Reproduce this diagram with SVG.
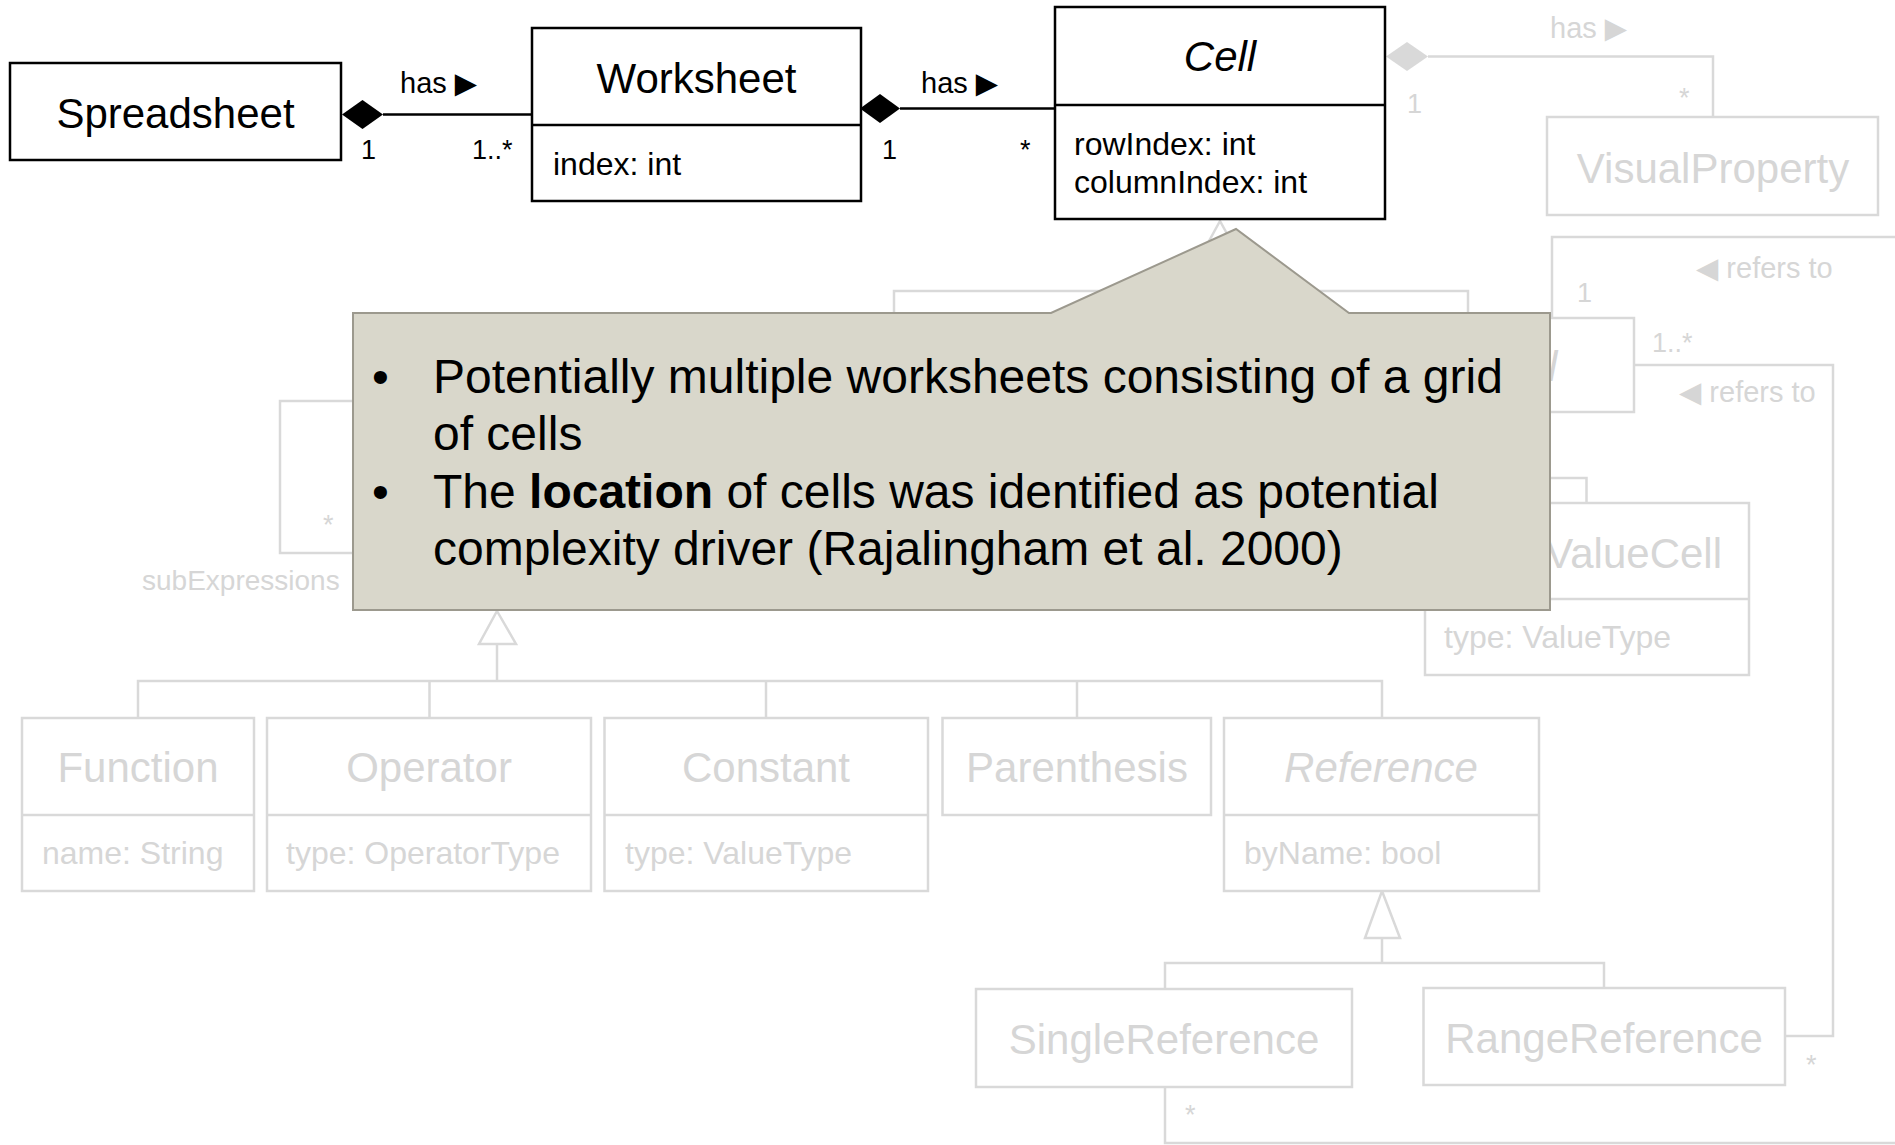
<svg xmlns="http://www.w3.org/2000/svg" width="1895" height="1145" viewBox="0 0 1895 1145">
  <style>
    text { font-family: "Liberation Sans", Arial, "DejaVu Sans", sans-serif; }
    .box { fill: #ffffff; stroke: #000000; stroke-width: 2.5; }
    .sep { stroke: #000000; stroke-width: 2.5; }
    .name { font-size: 42px; fill: #000000; text-anchor: middle; }
    .attr { font-size: 32px; fill: #000000; }
    .lbl { font-size: 29px; fill: #000000; }
    .mult { font-size: 27px; fill: #000000; }
    .line { fill: none; stroke: #000000; stroke-width: 2.5; }
    .fbox { fill: #ffffff; stroke: #d9d9d9; stroke-width: 2.5; }
    .fsep { stroke: #d9d9d9; stroke-width: 2.5; }
    .fname { font-size: 42px; fill: #d6d6d6; text-anchor: middle; }
    .fattr { font-size: 32px; fill: #d6d6d6; }
    .flbl { font-size: 29px; fill: #d6d6d6; }
    .fmult { font-size: 27px; fill: #d6d6d6; }
    .fline { fill: none; stroke: #d9d9d9; stroke-width: 2.5; }
    .gen { fill: #ffffff; stroke: #d9d9d9; stroke-width: 2.5; stroke-linejoin: miter; }
    .note { fill: #d9d7cb; stroke: #9c998e; stroke-width: 2; }
    .bullet { font-size: 48px; fill: #000000; }
  </style>

  <!-- faded part of the model -->
  <g id="connectors-faded">
    <!-- Cell has VisualProperty -->
    <polygon points="1386,56.5 1407,42 1428,56.5 1407,71" fill="#d9d9d9"/>
    <polyline class="fline" points="1428,56.5 1713,56.5 1713,117"/>
    <text class="flbl" x="1550" y="38">has ▶</text>
    <text class="fmult" x="1407" y="113">1</text>
    <text class="fmult" x="1679" y="107">*</text>

    <!-- refers to (single) -->
    <polyline class="fline" points="1552,318 1552,237 1895,237"/>
    <text class="flbl" x="1696" y="278">◀ refers to</text>
    <text class="fmult" x="1577" y="302">1</text>

    <!-- refers to (range) -->
    <polyline class="fline" points="1634,365 1833,365 1833,1036 1785,1036"/>
    <text class="flbl" x="1679" y="402">◀ refers to</text>
    <text class="fmult" x="1652" y="352">1..*</text>
    <text class="fmult" x="1806" y="1074">*</text>

    <!-- SingleReference association -->
    <polyline class="fline" points="1165,1087 1165,1143 1895,1143"/>
    <text class="fmult" x="1185" y="1124">*</text>

    <!-- Cell generalization -->
    <polyline class="fline" points="1220,252 1220,291"/>
    <polyline class="fline" points="894,313 894,291 1468,291 1468,313"/>
    <polygon class="gen" points="1220,221 1237,252 1203,252"/>

    <!-- ValueCell generalization -->
    <polyline class="fline" points="1500,478 1586.5,478 1586.5,503"/>

    <!-- subExpressions self association -->
    <polyline class="fline" points="380,401 280,401 280,553 380,553"/>
    <text class="fmult" x="323" y="534">*</text>
    <text class="flbl" x="142" y="590" style="font-size:28px">subExpressions</text>

    <!-- Expression generalization -->
    <polyline class="fline" points="497,644 497,681"/>
    <polyline class="fline" points="138,718 138,681 1382,681 1382,718"/>
    <polyline class="fline" points="429.5,681 429.5,718"/>
    <polyline class="fline" points="766,681 766,718"/>
    <polyline class="fline" points="1077,681 1077,718"/>
    <polygon class="gen" points="497,611 516,644 479,644"/>

    <!-- Reference generalization -->
    <polyline class="fline" points="1382,938 1382,963"/>
    <polyline class="fline" points="1165,989 1165,963 1604,963 1604,988"/>
    <polygon class="gen" points="1382,891 1400,938 1365,938"/>
  </g>

  <g id="VisualProperty">
    <rect class="fbox" x="1547" y="117" width="331" height="98"/>
    <text class="fname" x="1713" y="183">VisualProperty</text>
  </g>

  <g id="FormulaBox">
    <rect class="fbox" x="1420" y="318" width="214" height="94"/>
    <text class="fname" x="1548" y="381" font-style="italic" style="text-anchor:start">l</text>
  </g>

  <g id="ValueCell">
    <rect class="fbox" x="1425" y="503" width="324" height="172"/>
    <line class="fsep" x1="1425" y1="599" x2="1749" y2="599"/>
    <text class="fname" x="1722" y="568" style="text-anchor:end">ValueCell</text>
    <text class="fattr" x="1444" y="648">type: ValueType</text>
  </g>

  <g id="Function">
    <rect class="fbox" x="22" y="718" width="232" height="173"/>
    <line class="fsep" x1="22" y1="815" x2="254" y2="815"/>
    <text class="fname" x="138" y="782">Function</text>
    <text class="fattr" x="42" y="864">name: String</text>
  </g>

  <g id="Operator">
    <rect class="fbox" x="267" y="718" width="324" height="173"/>
    <line class="fsep" x1="267" y1="815" x2="591" y2="815"/>
    <text class="fname" x="429" y="782">Operator</text>
    <text class="fattr" x="286" y="864">type: OperatorType</text>
  </g>

  <g id="Constant">
    <rect class="fbox" x="604.5" y="718" width="323.5" height="173"/>
    <line class="fsep" x1="604.5" y1="815" x2="928" y2="815"/>
    <text class="fname" x="766" y="782">Constant</text>
    <text class="fattr" x="625" y="864">type: ValueType</text>
  </g>

  <g id="Parenthesis">
    <rect class="fbox" x="942.5" y="718" width="268.5" height="97"/>
    <text class="fname" x="1077" y="782">Parenthesis</text>
  </g>

  <g id="Reference">
    <rect class="fbox" x="1224" y="718" width="315" height="173"/>
    <line class="fsep" x1="1224" y1="815" x2="1539" y2="815"/>
    <text class="fname" x="1381" y="782" font-style="italic">Reference</text>
    <text class="fattr" x="1244" y="864">byName: bool</text>
  </g>

  <g id="SingleReference">
    <rect class="fbox" x="976" y="989" width="376" height="98"/>
    <text class="fname" x="1164" y="1054">SingleReference</text>
  </g>

  <g id="RangeReference">
    <rect class="fbox" x="1423.5" y="988" width="361.5" height="97"/>
    <text class="fname" x="1604" y="1053">RangeReference</text>
  </g>

  <!-- highlighted part of the model -->
  <g id="connectors">
    <line class="line" x1="383" y1="114.5" x2="532" y2="114.5"/>
    <polygon points="342,114.5 362.5,100 383,114.5 362.5,129" fill="#000000"/>
    <text class="lbl" x="400" y="93">has ▶</text>
    <text class="mult" x="361" y="159">1</text>
    <text class="mult" x="472" y="159">1..*</text>

    <line class="line" x1="900" y1="108.5" x2="1055" y2="108.5"/>
    <polygon points="860,108.5 880,94 900,108.5 880,123" fill="#000000"/>
    <text class="lbl" x="921" y="93">has ▶</text>
    <text class="mult" x="882" y="159">1</text>
    <text class="mult" x="1020" y="159">*</text>
  </g>

  <g id="Spreadsheet">
    <rect class="box" x="10" y="63" width="331" height="97"/>
    <text class="name" x="175.5" y="128">Spreadsheet</text>
  </g>

  <g id="Worksheet">
    <rect class="box" x="532" y="28" width="329" height="173"/>
    <line class="sep" x1="532" y1="125" x2="861" y2="125"/>
    <text class="name" x="696.5" y="93">Worksheet</text>
    <text class="attr" x="553" y="175">index: int</text>
  </g>

  <g id="Cell">
    <rect class="box" x="1055" y="7" width="330" height="212"/>
    <line class="sep" x1="1055" y1="105" x2="1385" y2="105"/>
    <text class="name" x="1220" y="71" font-style="italic">Cell</text>
    <text class="attr" x="1074" y="155">rowIndex: int</text>
    <text class="attr" x="1074" y="193">columnIndex: int</text>
  </g>

  <!-- callout -->
  <g id="note">
    <path class="note" d="M353,313 H1051 L1236,229 L1349,313 H1550 V610 H353 Z"/>
    <text class="bullet" x="372" y="393">•</text>
    <text class="bullet" x="433" y="393">Potentially multiple worksheets consisting of a grid</text>
    <text class="bullet" x="433" y="450">of cells</text>
    <text class="bullet" x="372" y="508">•</text>
    <text class="bullet" x="433" y="508">The <tspan font-weight="bold">location</tspan> of cells was identified as potential</text>
    <text class="bullet" x="433" y="565">complexity driver (Rajalingham et al. 2000)</text>
  </g>
</svg>
